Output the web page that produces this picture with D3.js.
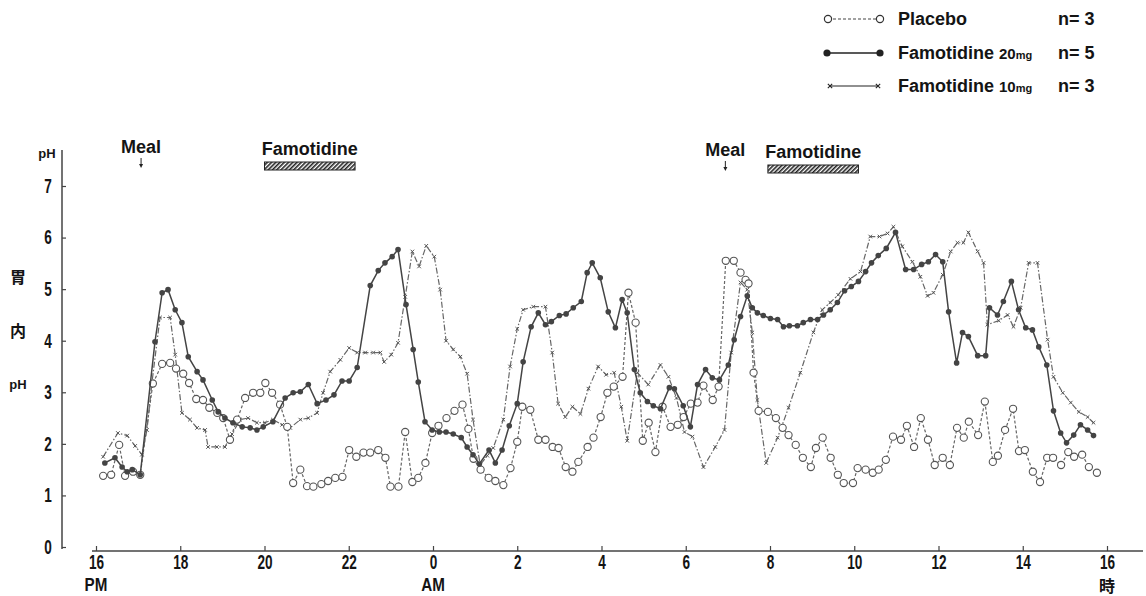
<!DOCTYPE html>
<html lang="ja">
<head>
<meta charset="UTF-8">
<title>Intragastric pH - Famotidine</title>
<script src="https://cdn.jsdelivr.net/npm/d3@7"></script>
<style>
  body { margin: 0; background: #fff; }
  svg { display: block; }
  text { font-family: "Liberation Sans", Arial, sans-serif; font-weight: bold; fill: #141414; }
  text.anno { font-size: 18px; }
  text.cjk { font-family: "Noto Sans CJK JP", sans-serif; font-size: 16px; font-weight: bold; }
  .axis line { stroke: #444; stroke-width: 1.2; }
  .axis text { font-size: 20px; }
</style>
</head>
<body>
<div id="chart"></div>
<script>
// ticks (hours counted from 16:00 PM)
const hourTicks = [0, 2, 4, 6, 8, 10, 12, 14, 16, 18, 20, 22, 24];
const hourLabels = ["16", "18", "20", "22", "0", "2", "4", "6", "8", "10", "12", "14", "16"];
const phTicks = [0, 1, 2, 3, 4, 5, 6, 7];

// [hours since 16:00, pH]
const placebo = [[0.17,1.38],[0.36,1.40],[0.55,1.98],[0.69,1.38],[0.88,1.46],[1.05,1.40],[1.35,3.17],[1.57,3.55],[1.76,3.57],[1.90,3.46],[2.07,3.36],[2.21,3.18],[2.38,2.87],[2.54,2.85],[2.69,2.70],[2.88,2.60],[3.02,2.50],[3.18,2.08],[3.35,2.47],[3.54,2.89],[3.73,2.99],[3.90,2.99],[4.02,3.18],[4.18,2.99],[4.37,2.76],[4.54,2.33],[4.68,1.24],[4.85,1.50],[5.01,1.18],[5.16,1.17],[5.35,1.22],[5.51,1.28],[5.68,1.34],[5.85,1.36],[6.01,1.88],[6.18,1.75],[6.35,1.83],[6.51,1.83],[6.70,1.88],[6.87,1.73],[6.99,1.17],[7.18,1.17],[7.34,2.23],[7.51,1.26],[7.65,1.34],[7.82,1.63],[7.98,2.21],[8.13,2.35],[8.32,2.50],[8.51,2.64],[8.70,2.76],[8.84,2.29],[8.96,1.71],[9.13,1.50],[9.32,1.34],[9.48,1.28],[9.67,1.20],[9.84,1.53],[10.00,2.04],[10.12,2.72],[10.31,2.66],[10.50,2.08],[10.67,2.08],[10.84,1.94],[10.98,1.92],[11.15,1.55],[11.31,1.46],[11.45,1.65],[11.67,1.94],[11.81,2.12],[11.98,2.52],[12.14,2.99],[12.29,3.11],[12.50,3.30],[12.64,4.93],[12.81,4.35],[12.98,2.06],[13.12,2.41],[13.28,1.84],[13.45,2.72],[13.64,2.33],[13.81,2.37],[13.95,2.52],[14.12,2.78],[14.28,2.80],[14.42,3.13],[14.64,2.85],[14.78,3.11],[14.95,5.55],[15.14,5.55],[15.30,5.32],[15.42,5.18],[15.49,5.11],[15.61,3.38],[15.73,2.64],[15.95,2.62],[16.14,2.50],[16.30,2.31],[16.44,2.17],[16.61,1.98],[16.78,1.73],[16.97,1.55],[17.09,1.92],[17.25,2.12],[17.44,1.73],[17.61,1.40],[17.75,1.24],[17.97,1.24],[18.08,1.53],[18.27,1.50],[18.44,1.44],[18.58,1.50],[18.75,1.69],[18.92,2.14],[19.11,2.08],[19.25,2.35],[19.42,1.94],[19.58,2.50],[19.75,2.08],[19.91,1.59],[20.10,1.73],[20.27,1.59],[20.44,2.31],[20.60,2.12],[20.72,2.43],[20.94,2.17],[21.10,2.82],[21.29,1.65],[21.41,1.77],[21.58,2.27],[21.77,2.68],[21.91,1.86],[22.05,1.88],[22.24,1.46],[22.41,1.26],[22.58,1.73],[22.72,1.73],[22.91,1.59],[23.08,1.84],[23.22,1.75],[23.41,1.79],[23.57,1.55],[23.76,1.44]];

const famo20 = [[0.21,1.63],[0.45,1.73],[0.62,1.55],[0.74,1.46],[0.86,1.50],[1.05,1.40],[1.40,3.98],[1.57,4.93],[1.71,4.99],[1.88,4.60],[2.04,4.35],[2.19,3.69],[2.40,3.40],[2.54,3.24],[2.76,2.85],[2.90,2.62],[3.06,2.50],[3.25,2.41],[3.47,2.33],[3.66,2.31],[3.82,2.27],[3.97,2.33],[4.20,2.43],[4.49,2.89],[4.68,2.99],[4.85,3.01],[5.04,3.15],[5.25,2.78],[5.46,2.85],[5.65,2.95],[5.84,3.22],[6.01,3.22],[6.20,3.48],[6.51,5.07],[6.70,5.36],[6.86,5.51],[7.03,5.63],[7.17,5.77],[7.36,4.70],[7.53,3.83],[7.65,3.20],[7.81,2.43],[7.98,2.27],[8.15,2.23],[8.31,2.23],[8.48,2.19],[8.67,2.12],[8.81,1.94],[8.95,1.79],[9.10,1.61],[9.33,1.88],[9.48,1.63],[9.64,1.88],[9.81,2.35],[10.00,2.78],[10.14,3.59],[10.33,4.27],[10.50,4.54],[10.67,4.31],[10.81,4.37],[11.00,4.49],[11.16,4.52],[11.33,4.64],[11.52,4.76],[11.66,5.32],[11.78,5.51],[11.97,5.22],[12.16,4.56],[12.33,4.25],[12.49,4.80],[12.61,4.54],[12.78,3.44],[12.92,2.99],[13.09,2.82],[13.23,2.74],[13.40,2.68],[13.61,3.09],[13.73,3.07],[13.94,2.74],[14.11,2.33],[14.28,3.15],[14.47,3.44],[14.63,3.28],[14.80,3.24],[15.01,3.53],[15.15,4.02],[15.30,4.47],[15.46,4.87],[15.58,4.64],[15.70,4.54],[15.84,4.49],[16.01,4.43],[16.18,4.41],[16.32,4.27],[16.46,4.29],[16.65,4.29],[16.79,4.35],[16.96,4.41],[17.13,4.41],[17.27,4.50],[17.43,4.60],[17.60,4.74],[17.77,4.97],[17.93,5.05],[18.10,5.15],[18.27,5.34],[18.41,5.51],[18.57,5.65],[18.76,5.79],[18.98,6.10],[19.22,5.38],[19.41,5.38],[19.60,5.48],[19.76,5.53],[19.93,5.67],[20.10,5.53],[20.24,4.56],[20.43,3.57],[20.57,4.16],[20.71,4.08],[20.93,3.71],[21.12,3.71],[21.21,4.64],[21.40,4.50],[21.54,4.76],[21.73,5.15],[21.90,4.60],[22.07,4.25],[22.23,4.21],[22.38,3.88],[22.57,3.53],[22.73,2.64],[22.90,2.21],[23.04,2.02],[23.21,2.17],[23.37,2.37],[23.54,2.27],[23.68,2.16]];

const famo10 = [[0.17,1.75],[0.52,2.21],[0.74,2.16],[0.93,1.96],[1.09,1.79],[1.21,2.27],[1.33,3.20],[1.52,4.45],[1.76,4.45],[1.88,3.73],[2.04,2.60],[2.23,2.47],[2.40,2.31],[2.59,2.27],[2.66,1.94],[2.87,1.94],[3.06,1.94],[3.23,2.19],[3.42,2.47],[3.61,2.50],[3.82,2.41],[4.01,2.41],[4.20,2.47],[4.42,2.37],[4.61,2.31],[4.85,2.47],[5.04,2.50],[5.25,2.60],[5.39,2.99],[5.56,3.40],[5.80,3.63],[6.01,3.86],[6.20,3.77],[6.39,3.77],[6.58,3.77],[6.75,3.77],[6.84,3.59],[7.01,3.73],[7.17,3.96],[7.34,4.85],[7.51,5.73],[7.67,5.44],[7.84,5.84],[8.03,5.63],[8.17,4.99],[8.31,4.00],[8.48,3.83],[8.65,3.69],[8.81,3.36],[8.95,2.47],[9.12,1.59],[9.29,1.77],[9.43,1.92],[9.67,2.47],[9.83,3.50],[10.00,4.23],[10.14,4.60],[10.38,4.66],[10.67,4.66],[10.83,3.77],[10.97,2.78],[11.14,2.52],[11.31,2.72],[11.50,2.58],[11.69,3.07],[11.92,3.50],[12.11,3.34],[12.30,3.38],[12.47,2.72],[12.61,2.06],[12.85,3.38],[13.11,3.15],[13.40,3.53],[13.59,3.30],[13.78,2.89],[13.97,2.23],[14.16,2.14],[14.42,1.55],[14.70,1.94],[14.92,2.27],[15.08,3.77],[15.30,5.13],[15.46,4.99],[15.58,4.16],[15.70,2.85],[15.91,1.63],[16.18,2.12],[16.44,2.70],[16.72,3.38],[17.03,4.16],[17.24,4.60],[17.43,4.74],[17.62,4.89],[17.91,5.20],[18.15,5.34],[18.38,6.02],[18.60,6.02],[18.79,6.08],[18.93,6.21],[19.14,5.83],[19.38,5.53],[19.57,5.24],[19.74,4.87],[19.88,4.93],[20.10,5.28],[20.29,5.73],[20.45,5.90],[20.59,5.90],[20.71,6.10],[20.93,5.73],[21.07,5.51],[21.16,4.31],[21.43,4.39],[21.64,4.50],[21.78,4.27],[21.95,4.64],[22.14,5.51],[22.35,5.51],[22.59,4.02],[22.73,3.30],[22.95,2.99],[23.14,2.80],[23.33,2.62],[23.54,2.52],[23.68,2.41]];

// events: meals and famotidine dosing periods (hours since 16:00)
const meals = [1.07, 14.94];
const dosing = [[4.0, 6.15], [15.95, 18.1]];

const width = 1146, height = 596;
const squeeze = "scale(0.68,1)";   // condensed look of the printed digits

const svg = d3.select("#chart").append("svg")
  .attr("width", width)
  .attr("height", height);

const x = d3.scaleLinear().domain([0, 24]).range([96, 1107]);
const y = d3.scaleLinear().domain([0, 7]).range([547, 186]);

// hatch pattern for the dosing bars
const defs = svg.append("defs");
defs.append("pattern")
  .attr("id", "hatch")
  .attr("patternUnits", "userSpaceOnUse")
  .attr("width", 3).attr("height", 3)
  .attr("patternTransform", "rotate(45)")
  .append("rect")
  .attr("width", 1.6).attr("height", 3)
  .attr("fill", "#222");

// Y axis
svg.append("line")
  .attr("x1", 62).attr("x2", 62)
  .attr("y1", 150).attr("y2", 549)
  .attr("stroke", "#444").attr("stroke-width", 1.5);

const yAxis = svg.append("g")
  .attr("class", "axis")
  .attr("transform", "translate(62,0)")
  .call(d3.axisLeft(y).tickValues(phTicks).tickSize(-4).tickPadding(15).tickFormat(d3.format("d")));
yAxis.select(".domain").remove();
yAxis.selectAll(".tick text").attr("transform", squeeze);

svg.append("text")
  .attr("x", 47).attr("y", 158)
  .attr("text-anchor", "middle")
  .style("font-size", "13px")
  .text("pH");

// Y title, stacked
svg.append("text").attr("class", "cjk").attr("x", 18).attr("y", 283).attr("text-anchor", "middle").text("胃");
svg.append("text").attr("class", "cjk").attr("x", 18).attr("y", 337).attr("text-anchor", "middle").text("内");
svg.append("text").attr("x", 18).attr("y", 389).attr("text-anchor", "middle").style("font-size", "13px").text("pH");

// X axis
svg.append("line")
  .attr("x1", 92).attr("x2", 1143)
  .attr("y1", 551).attr("y2", 551)
  .attr("stroke", "#444").attr("stroke-width", 1.5);

const xAxis = svg.append("g")
  .attr("class", "axis")
  .attr("transform", "translate(0,551)")
  .call(d3.axisBottom(x).tickValues(hourTicks).tickSize(-5).tickPadding(4).tickFormat((d, i) => hourLabels[i]));
xAxis.select(".domain").remove();
xAxis.selectAll(".tick text").attr("transform", squeeze);

[["PM", 0], ["AM", 8]].forEach(([t, h]) => {
  svg.append("g").attr("transform", `translate(${x(h)},591)`)
    .append("text")
    .attr("text-anchor", "middle")
    .attr("transform", "scale(0.8,1)")
    .style("font-size", "19px")
    .text(t);
});
svg.append("text").attr("class", "cjk").attr("x", x(24)).attr("y", 592).attr("text-anchor", "middle").text("時");

// meal markers
meals.forEach((m, i) => {
  const top = i === 0 ? 153 : 156;
  svg.append("text").attr("class", "anno")
    .attr("x", x(m)).attr("y", top)
    .attr("text-anchor", "middle")
    .text("Meal");
  svg.append("line")
    .attr("x1", x(m)).attr("x2", x(m))
    .attr("y1", top + 5).attr("y2", top + 13)
    .attr("stroke", "#222").attr("stroke-width", 1);
  svg.append("path")
    .attr("d", `M${x(m) - 2},${top + 11}L${x(m) + 2},${top + 11}L${x(m)},${top + 15}Z`)
    .attr("fill", "#222");
});

// famotidine dosing bars
dosing.forEach((p, i) => {
  const top = i === 0 ? 162 : 165;
  svg.append("text").attr("class", "anno")
    .attr("x", (x(p[0]) + x(p[1])) / 2).attr("y", top - 7)
    .attr("text-anchor", "middle")
    .text("Famotidine");
  svg.append("rect")
    .attr("x", x(p[0])).attr("y", top)
    .attr("width", x(p[1]) - x(p[0])).attr("height", 8)
    .attr("fill", "url(#hatch)")
    .attr("stroke", "#222").attr("stroke-width", 1);
});

const line = d3.line().x(d => x(d[0])).y(d => y(d[1]));

// Famotidine 10mg: dash-dot line with small crosses
svg.append("path")
  .datum(famo10)
  .attr("d", line)
  .attr("fill", "none")
  .attr("stroke", "#666")
  .attr("stroke-width", 1.2)
  .attr("stroke-dasharray", "6,2,1.5,2");

const cross = d3.symbol().type(d3.symbolTimes).size(10);
svg.append("g")
  .selectAll("path")
  .data(famo10)
  .join("path")
  .attr("transform", d => `translate(${x(d[0])},${y(d[1])})`)
  .attr("d", cross)
  .attr("fill", "none")
  .attr("stroke", "#555")
  .attr("stroke-width", 1);

// Placebo: dashed with open circles
svg.append("path")
  .datum(placebo)
  .attr("d", line)
  .attr("fill", "none")
  .attr("stroke", "#666")
  .attr("stroke-width", 1.2)
  .attr("stroke-dasharray", "3,2");

svg.append("g")
  .selectAll("circle")
  .data(placebo)
  .join("circle")
  .attr("cx", d => x(d[0]))
  .attr("cy", d => y(d[1]))
  .attr("r", 3.6)
  .attr("fill", "#fff")
  .attr("stroke", "#555")
  .attr("stroke-width", 1.1);

// Famotidine 20mg: solid with filled circles
svg.append("path")
  .datum(famo20)
  .attr("d", line)
  .attr("fill", "none")
  .attr("stroke", "#444")
  .attr("stroke-width", 1.5);

svg.append("g")
  .selectAll("circle")
  .data(famo20)
  .join("circle")
  .attr("cx", d => x(d[0]))
  .attr("cy", d => y(d[1]))
  .attr("r", 2.8)
  .attr("fill", "#444");

// Legend
const legend = svg.append("g");
const rows = [
  {name: "Placebo", dose: "", n: 3, yy: 19},
  {name: "Famotidine ", dose: "20", n: 5, yy: 53},
  {name: "Famotidine ", dose: "10", n: 3, yy: 86}
];

// placebo symbol
legend.append("line").attr("x1", 828).attr("x2", 880).attr("y1", 19).attr("y2", 19)
  .attr("stroke", "#444").attr("stroke-width", 1.2).attr("stroke-dasharray", "3,2");
[828, 880].forEach(cx => legend.append("circle").attr("cx", cx).attr("cy", 19).attr("r", 3.6)
  .attr("fill", "#fff").attr("stroke", "#333").attr("stroke-width", 1.2));

// 20mg symbol
legend.append("line").attr("x1", 827).attr("x2", 880).attr("y1", 53).attr("y2", 53)
  .attr("stroke", "#222").attr("stroke-width", 1.6);
[827, 880].forEach(cx => legend.append("circle").attr("cx", cx).attr("cy", 53).attr("r", 3.6).attr("fill", "#222"));

// 10mg symbol
legend.append("line").attr("x1", 830).attr("x2", 878).attr("y1", 86).attr("y2", 86)
  .attr("stroke", "#222").attr("stroke-width", 1.2);
[830, 878].forEach(cx => legend.append("path")
  .attr("transform", `translate(${cx},86)`)
  .attr("d", d3.symbol().type(d3.symbolTimes).size(14))
  .attr("fill", "none").attr("stroke", "#222").attr("stroke-width", 1.1));

rows.forEach(r => {
  const t = legend.append("text")
    .attr("class", "anno")
    .attr("x", 898).attr("y", r.yy + 6);
  t.append("tspan").text(r.name);
  if (r.dose) {
    t.append("tspan").style("font-size", "15px").text(r.dose);
    t.append("tspan").style("font-size", "11px").text("mg");
  }
  legend.append("text")
    .attr("class", "anno")
    .attr("x", 1058).attr("y", r.yy + 6)
    .text(`n= ${r.n}`);
});
</script>
</body>
</html>
